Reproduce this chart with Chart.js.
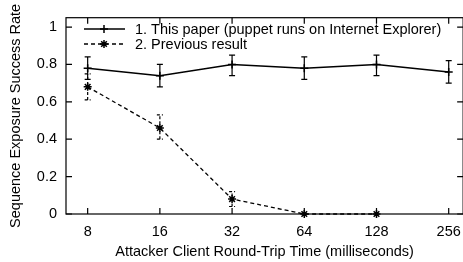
<!DOCTYPE html>
<html>
<head>
<meta charset="utf-8">
<script src="https://cdn.jsdelivr.net/npm/chart.js@4.4.1/dist/chart.umd.min.js"></script>
<style>
  html, body { margin: 0; padding: 0; background: #fff; overflow: hidden; }
  canvas { display: block; }
</style>
</head>
<body>
<canvas id="rtt-chart" width="470" height="262"></canvas>
<script>
// Round-trip time categories (milliseconds)
const rttLabels = ['8', '16', '32', '64', '128', '256'];

// 1. This paper
const paperRate = [0.78, 0.74, 0.80, 0.78, 0.80, 0.76];
const paperLow  = [0.72, 0.68, 0.74, 0.72, 0.74, 0.70];
const paperHigh = [0.84, 0.80, 0.85, 0.84, 0.85, 0.82];

// 2. Previous result
const prevRate = [0.68, 0.46, 0.08, 0, 0];
const prevLow  = [0.61, 0.40, 0.04, 0, 0];
const prevHigh = [0.75, 0.53, 0.12, 0, 0];

const yTicks = [0, 0.2, 0.4, 0.6, 0.8, 1];

const legendNames = [
  '1. This paper (puppet runs on Internet Explorer)',
  '2. Previous result'
];

const FONT = "'Liberation Sans', Arial, Helvetica, sans-serif";
const FONT_SIZE = 14.5;
const TICK = 6;

/**
 * Frame, inward mirrored ticks, error bars and inset legend
 */
const gnuplotLook = {
  id: 'gnuplotLook',
  beforeDatasetsDraw(chart) {
    const { ctx, chartArea: a, scales } = chart;
    const x = scales.x, y = scales.y;
    ctx.save();
    ctx.strokeStyle = '#000';
    ctx.lineWidth = 1.2;
    ctx.setLineDash([]);
    ctx.strokeRect(a.left, a.top, a.right - a.left, a.bottom - a.top);

    // inward ticks on all four sides
    ctx.beginPath();
    rttLabels.forEach((_, i) => {
      const px = x.getPixelForValue(i);
      ctx.moveTo(px, a.bottom); ctx.lineTo(px, a.bottom - TICK);
      ctx.moveTo(px, a.top); ctx.lineTo(px, a.top + TICK);
    });
    yTicks.forEach(v => {
      const py = y.getPixelForValue(v);
      ctx.moveTo(a.left, py); ctx.lineTo(a.left + TICK, py);
      ctx.moveTo(a.right, py); ctx.lineTo(a.right - TICK, py);
    });
    ctx.stroke();

    // error bars
    const drawBars = (low, high, dash) => {
      ctx.setLineDash(dash);
      ctx.beginPath();
      low.forEach((lo, i) => {
        if (high[i] - lo <= 0) return;
        const px = x.getPixelForValue(i);
        const y0 = y.getPixelForValue(lo);
        const y1 = y.getPixelForValue(high[i]);
        ctx.moveTo(px, y0); ctx.lineTo(px, y1);
        ctx.moveTo(px - 3, y0); ctx.lineTo(px + 3, y0);
        ctx.moveTo(px - 3, y1); ctx.lineTo(px + 3, y1);
      });
      ctx.stroke();
    };
    ctx.lineWidth = 1.2;
    drawBars(paperLow, paperHigh, []);
    drawBars(prevLow, prevHigh, [3, 2]);
    ctx.restore();
  },
  afterDraw(chart) {
    const { ctx } = chart;
    ctx.save();
    ctx.font = FONT_SIZE + 'px ' + FONT;
    ctx.fillStyle = '#000';
    ctx.textBaseline = 'middle';
    const rows = [
      { y: 29, dash: [], style: 'cross' },
      { y: 44, dash: [4, 3], style: 'star' }
    ];
    rows.forEach((r, i) => {
      ctx.strokeStyle = '#000';
      ctx.lineWidth = 1.5;
      ctx.setLineDash(r.dash);
      ctx.beginPath();
      ctx.moveTo(84, r.y); ctx.lineTo(125, r.y);
      ctx.stroke();
      ctx.setLineDash([]);
      Chart.helpers.drawPoint(ctx, { pointStyle: r.style, radius: 4, rotation: 0, borderWidth: 1.5 }, 104, r.y);
      ctx.fillText(legendNames[i], 135, r.y + 1);
    });
    ctx.restore();
  }
};

const ctx = document.getElementById('rtt-chart');

new Chart(ctx, {
  type: 'line',
  data: {
    datasets: [
      {
        label: legendNames[0],
        data: paperRate.map((v, i) => ({ x: i, y: v })),
        borderColor: '#000',
        borderWidth: 1.5,
        pointStyle: 'cross',
        pointRadius: 4,
        pointBorderWidth: 1.5,
        pointBorderColor: '#000',
        fill: false,
        tension: 0,
        clip: false
      },
      {
        label: legendNames[1],
        data: prevRate.map((v, i) => ({ x: i, y: v })),
        borderColor: '#000',
        borderWidth: 1.3,
        borderDash: [4, 3],
        pointStyle: 'star',
        pointRadius: 4,
        pointBorderWidth: 1.5,
        pointBorderColor: '#000',
        fill: false,
        tension: 0,
        clip: false
      }
    ]
  },
  options: {
    responsive: false,
    animation: false,
    devicePixelRatio: 1,
    layout: { padding: { top: 15, right: 5, left: 0, bottom: 0 } },
    plugins: {
      legend: { display: false },
      tooltip: { enabled: false }
    },
    scales: {
      x: {
        type: 'linear',
        min: -0.3,
        max: 5.2,
        afterBuildTicks: s => { s.ticks = rttLabels.map((_, i) => ({ value: i })); },
        afterFit: s => { s.height = 48; },
        grid: { display: false, drawTicks: false },
        border: { display: false },
        ticks: {
          color: '#000',
          font: { family: FONT, size: FONT_SIZE },
          padding: 9,
          maxRotation: 0,
          autoSkip: false,
          callback: v => rttLabels[v]
        },
        title: {
          display: true,
          text: 'Attacker Client Round-Trip Time (milliseconds)',
          color: '#000',
          font: { family: FONT, size: FONT_SIZE },
          padding: { top: 0, bottom: 1 }
        }
      },
      y: {
        min: 0,
        max: 1.05,
        afterBuildTicks: s => { s.ticks = yTicks.map(v => ({ value: v })); },
        afterFit: s => { s.width = 66; },
        grid: { display: false, drawTicks: false },
        border: { display: false },
        ticks: {
          color: '#000',
          font: { family: FONT, size: FONT_SIZE },
          padding: 9,
          callback: v => String(v)
        },
        title: {
          display: true,
          text: 'Sequence Exposure Success Rate',
          color: '#000',
          font: { family: FONT, size: FONT_SIZE },
          padding: { top: 7, bottom: 0 }
        }
      }
    }
  },
  plugins: [gnuplotLook]
});
</script>
</body>
</html>
